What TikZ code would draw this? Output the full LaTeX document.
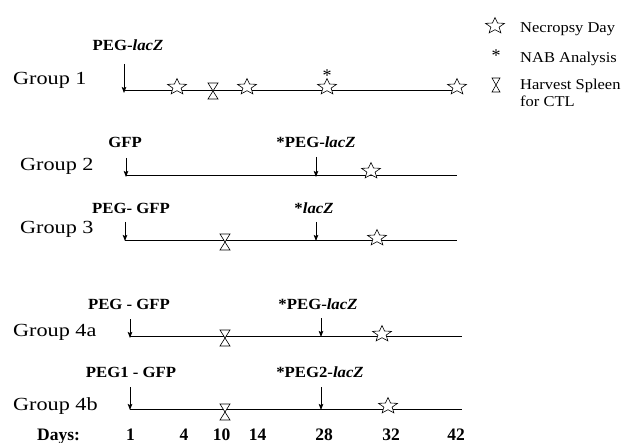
\documentclass[tikz,border=0pt]{standalone}
\usepackage{fontspec}
\setmainfont{Liberation Serif}
\newfontfamily\grpfont[FakeStretch=1.2]{Liberation Serif}
\newfontfamily\legfont[FakeStretch=1.1]{Liberation Serif}
\newfontfamily\agentfont[FakeStretch=1.08]{Liberation Serif}
\usetikzlibrary{arrows.meta}
\tikzset{
  grp/.style={font=\grpfont\fontsize{18.5}{18.5}\selectfont, anchor=base west, inner sep=0pt},
  agent/.style={font=\agentfont\bfseries\fontsize{15.5}{15.5}\selectfont, anchor=base, inner sep=0pt},
  daynum/.style={font=\bfseries\fontsize{17.5}{17.5}\selectfont, anchor=base, inner sep=0pt},
  legtxt/.style={font=\legfont\fontsize{15}{15}\selectfont, anchor=base west, inner sep=0pt},
  nab/.style={font=\fontsize{18}{18}\selectfont, anchor=north, inner sep=0pt},
  tl/.style={line width=0.9pt},
  inj/.style={line width=0.8pt, -{Stealth[length=6pt,width=4.5pt,inset=1pt]}},
  necro/.pic={\draw[fill=white, line width=0.6pt, line join=miter]
      (-90:10 and 8.5) -- (-54:4.3 and 3.7) -- (-18:10 and 8.5) -- (18:4.3 and 3.7)
      -- (54:10 and 8.5) -- (90:4.3 and 3.7) -- (126:10 and 8.5) -- (162:4.3 and 3.7)
      -- (198:10 and 8.5) -- (234:4.3 and 3.7) -- cycle;},
  hglass/.pic={\draw[fill=white, line width=0.6pt, line join=miter]
      (-5,-8) -- (5,-8) -- (-5,8) -- (5,8) -- cycle;},
  hglasssm/.pic={\draw[fill=white, line width=0.6pt, line join=miter]
      (-4,-7) -- (4,-7) -- (-4,7) -- (4,7) -- cycle;},
}
\begin{document}
\begin{tikzpicture}[x=1pt,y=-1pt]
\useasboundingbox (0,0) rectangle (623,443);

% ---------- Legend ----------
\pic at (495,26) {necro};
\node[legtxt] (lnec) at (520,33) {Necropsy Day};
\node[nab] (lnabs) at (496,50) {*};
\node[legtxt] (lnab) at (520,63) {NAB Analysis};
\pic at (496,85) {hglasssm};
\node[legtxt] (lhar) at (520,90) {Harvest Spleen};
\node[legtxt] (lctl) at (520,107) {for CTL};

% ---------- Group 1 ----------
\node[grp] (g1) at (13,85) {Group 1};
\node[agent] (g1a) at (128,51) {PEG-\textit{lacZ}};
\coordinate (g1s) at (124,90);
\coordinate (g1e) at (457,90);
\coordinate (g1at) at (124,64);
\draw[tl] (g1s) -- (g1e);
\draw[inj] (g1at) -- ([yshift=-3pt]g1s);
\pic at (177,87) {necro};
\pic at (213,91) {hglass};
\pic at (247,87) {necro};
\pic at (327,87) {necro};
\node[nab] (g1nab) at (327,70) {*};
\pic at (457,87) {necro};

% ---------- Group 2 ----------
\node[grp] (g2) at (20,171) {Group 2};
\node[agent] (g2a) at (125,148) {GFP};
\node[agent] (g2b) at (316,148) {*PEG-\textit{lacZ}};
\coordinate (g2s) at (126,175);
\coordinate (g2e) at (457,175);
\coordinate (g2at) at (126,158);
\coordinate (g2bt) at (316,157);
\coordinate (g2bl) at (316,175);
\draw[tl] (g2s) -- (g2e);
\draw[inj] (g2at) -- ([yshift=-2pt]g2s);
\draw[inj] (g2bt) -- ([yshift=-2pt]g2bl);
\pic at (371,171) {necro};

% ---------- Group 3 ----------
\node[grp] (g3) at (20,234) {Group 3};
\node[agent] (g3a) at (131,214) {PEG- GFP};
\node[agent] (g3b) at (314,214) {*\textit{lacZ}};
\coordinate (g3s) at (125,240);
\coordinate (g3e) at (457,240);
\coordinate (g3at) at (125,222);
\coordinate (g3bt) at (316,222);
\coordinate (g3bl) at (316,240);
\draw[tl] (g3s) -- (g3e);
\draw[inj] (g3at) -- ([yshift=-1pt]g3s);
\draw[inj] (g3bt) -- ([yshift=-1pt]g3bl);
\pic at (225,242) {hglass};
\pic at (377,238) {necro};

% ---------- Group 4a ----------
\node[grp] (g4a) at (13,336) {Group 4a};
\node[agent] (g4aa) at (129,309) {PEG - GFP};
\node[agent] (g4ab) at (318,309) {*PEG-\textit{lacZ}};
\coordinate (g4as) at (130,336);
\coordinate (g4ae) at (462,336);
\coordinate (g4aat) at (130,319);
\coordinate (g4abt) at (321,318);
\coordinate (g4abl) at (321,336);
\draw[tl] (g4as) -- (g4ae);
\draw[inj] (g4aat) -- ([yshift=-2pt]g4as);
\draw[inj] (g4abt) -- ([yshift=-1pt]g4abl);
\pic at (225,338) {hglass};
\pic at (382,334) {necro};

% ---------- Group 4b ----------
\node[grp] (g4b) at (13,410) {Group 4b};
\node[agent] (g4ba) at (131,377) {PEG1 - GFP};
\node[agent] (g4bb) at (320,377) {*PEG2-\textit{lacZ}};
\coordinate (g4bs) at (130,409);
\coordinate (g4be) at (462,409);
\coordinate (g4bat) at (130,387);
\coordinate (g4bbt) at (321,387);
\coordinate (g4bbl) at (321,409);
\draw[tl] (g4bs) -- (g4be);
\draw[inj] (g4bat) -- ([yshift=-1pt]g4bs);
\draw[inj] (g4bbt) -- ([yshift=-1pt]g4bbl);
\pic at (225,412) {hglass};
\pic at (388,406) {necro};

% ---------- Days ----------
\node[daynum, anchor=base west] (days) at (37,440) {Days:};
\node[daynum] (d1) at (130.5,440) {1};
\node[daynum] (d4) at (184,440) {4};
\node[daynum] (d10) at (221.5,440) {10};
\node[daynum] (d14) at (257.5,440) {14};
\node[daynum] (d28) at (324,440) {28};
\node[daynum] (d32) at (391,440) {32};
\node[daynum] (d42) at (456,440) {42};
\end{tikzpicture}
\end{document}
